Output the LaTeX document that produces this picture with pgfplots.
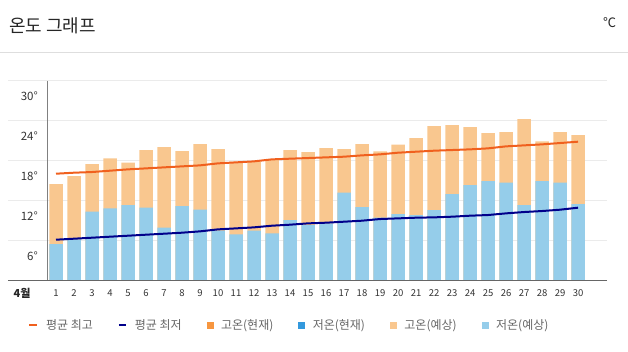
\documentclass[border=0pt]{standalone}
\usepackage{fontspec}
\setmainfont{Noto Sans CJK KR}
\usepackage{pgfplots}
\pgfplotsset{compat=1.18}
\definecolor{cAvgHi}{HTML}{F0601E}
\definecolor{cAvgLo}{HTML}{00008B}
\definecolor{cHcur}{HTML}{F7963F}
\definecolor{cLcur}{HTML}{3399DD}
\definecolor{cHfc}{HTML}{F9C78F}
\definecolor{cLfc}{HTML}{95CDEA}
\definecolor{cGrid}{HTML}{EBEBEB}
\begin{document}
\begin{tikzpicture}[x=1pt,y=1pt]
\useasboundingbox (0pt,0pt) rectangle (628pt,352pt);
\node[anchor=west, inner sep=0pt, font=\fontsize{18}{20}\selectfont, text=black!85] at (9pt,326.5pt) {온도 그래프};
\node[anchor=center, inner sep=0pt, font=\fontsize{13}{14}\selectfont, text=black!85] at (609.5pt,329pt) {℃};
\draw[color=black!13, line width=1pt] (0pt,299.2pt) -- (628pt,299.2pt);
\node[anchor=center, inner sep=0pt, font=\fontsize{11}{12}\selectfont\bfseries, text=black!85] at (22pt,58.5pt) {4월};
\begin{axis}[
  at={(8pt,71.3pt)}, anchor=south west, scale only axis,
  width=599pt, height=200pt,
  xmin=-1.667, xmax=31.61, ymin=0, ymax=30,
  axis line style={draw=none}, major tick length=0pt,
  ytick={6,12,18,24,30}, yticklabels={6°,12°,18°,24°,30°},
  ymajorgrids, grid style={cGrid, line width=1.5pt},
  xtick={1,...,30},
  /pgf/number format/assume math mode=true,
  xticklabel style={font=\fontsize{9.5}{10}\selectfont, text=black!80, inner sep=0pt, anchor=center, yshift=-12.8pt},
  yticklabel style={font=\fontsize{11.5}{12}\selectfont, text=black!80, inner sep=0pt, anchor=east, xshift=30pt, yshift=-15.5pt},
  legend style={at={(axis description cs:0.0334,-0.2215)}, anchor=west, draw=none, fill=none, inner sep=0pt, outer sep=0pt,
    font=\fontsize{12}{13}\selectfont, text=black!60,
    /tikz/every odd column/.append style={column sep=8pt},
    /tikz/every even column/.append style={column sep=25pt},
    nodes={inner sep=0pt}},
  legend columns=-1, legend cell align=left,
]
% forecast highs
\addplot[ybar, bar width=13.5pt, bar shift=0pt, fill=cHfc, draw=none, forget plot] coordinates {
(1,14.5) (2,15.7) (3,17.5) (4,18.35) (5,17.7) (6,19.6) (7,20.05) (8,19.45) (9,20.5) (10,19.75)
(11,17.85) (12,17.85) (13,18.1) (14,19.6) (15,19.3) (16,19.9) (17,19.75) (18,20.5) (19,19.4) (20,20.4)
(21,21.4) (22,23.2) (23,23.35) (24,23.05) (25,22.15) (26,22.3) (27,24.25) (28,20.9) (29,22.3) (30,21.85)};
% forecast lows
\addplot[ybar, bar width=13.5pt, bar shift=0pt, fill=cLfc, draw=none, forget plot] coordinates {
(1,5.5) (2,6.2) (3,10.35) (4,10.85) (5,11.35) (6,10.95) (7,7.95) (8,11.2) (9,10.65) (10,7.5)
(11,6.95) (12,7.5) (13,7.1) (14,9.1) (15,8.35) (16,8.6) (17,13.2) (18,11.05) (19,9.45) (20,10.0)
(21,9.85) (22,10.6) (23,13.0) (24,14.35) (25,14.95) (26,14.7) (27,11.35) (28,14.95) (29,14.7) (30,11.5)};
% average high
\addplot[cAvgHi, line width=2pt, mark=none, forget plot] coordinates {
(1,16.05) (2,16.2) (3,16.3) (4,16.5) (5,16.7) (6,16.85) (7,17.0) (8,17.15) (9,17.3) (10,17.6)
(11,17.75) (12,17.9) (13,18.2) (14,18.3) (15,18.4) (16,18.5) (17,18.6) (18,18.8) (19,18.95) (20,19.2)
(21,19.35) (22,19.5) (23,19.6) (24,19.7) (25,19.85) (26,20.15) (27,20.3) (28,20.45) (29,20.65) (30,20.85)};
% average low
\addplot[cAvgLo, line width=2pt, mark=none, forget plot] coordinates {
(1,6.15) (2,6.3) (3,6.45) (4,6.6) (5,6.75) (6,6.9) (7,7.05) (8,7.2) (9,7.4) (10,7.7)
(11,7.85) (12,8.0) (13,8.25) (14,8.4) (15,8.6) (16,8.7) (17,8.85) (18,9.0) (19,9.25) (20,9.35)
(21,9.45) (22,9.5) (23,9.6) (24,9.75) (25,9.85) (26,10.1) (27,10.3) (28,10.45) (29,10.65) (30,10.95)};
\draw[black!50, line width=1.5pt] (axis cs:0.54,0) -- (axis cs:0.54,30);
\draw[black!60, line width=2pt] (rel axis cs:0,0) -- (rel axis cs:1,0);
\addlegendimage{legend image code/.code={\draw[cAvgHi, line width=2pt] (0pt,0pt) -- (8pt,0pt);}}
\addlegendentry{평균 최고}
\addlegendimage{legend image code/.code={\draw[cAvgLo, line width=2pt] (0pt,0pt) -- (7pt,0pt);}}
\addlegendentry{평균 최저}
\addlegendimage{legend image code/.code={\fill[cHcur] (0pt,-3pt) rectangle (6pt,3pt);}}
\addlegendentry{고온(현재)}
\addlegendimage{legend image code/.code={\fill[cLcur] (0pt,-3pt) rectangle (6pt,3pt);}}
\addlegendentry{저온(현재)}
\addlegendimage{legend image code/.code={\fill[cHfc] (0pt,-3pt) rectangle (6pt,3pt);}}
\addlegendentry{고온(예상)}
\addlegendimage{legend image code/.code={\fill[cLfc] (0pt,-3pt) rectangle (6pt,3pt);}}
\addlegendentry{저온(예상)}
\end{axis}
\end{tikzpicture}
\end{document}
